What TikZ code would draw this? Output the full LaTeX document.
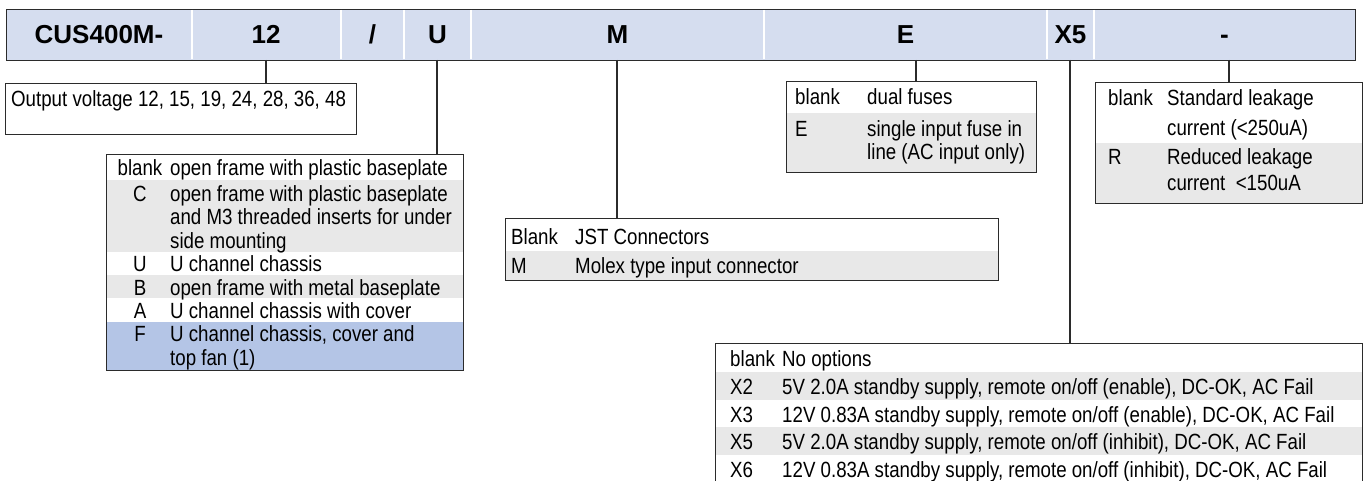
\documentclass[tikz,border=0pt]{standalone}
\usepackage{fontspec}
\setmainfont{Liberation Sans}[FakeStretch=0.85]
\newfontfamily\hdrfont{Liberation Sans}
\definecolor{barfill}{HTML}{D5DDEF}
\definecolor{rowgray}{HTML}{E8E8E8}
\definecolor{rowblue}{HTML}{B4C5E6}
\definecolor{edge}{HTML}{2B2B2B}
\begin{document}
\begin{tikzpicture}[x=1pt,y=-1pt,
  txt/.style={inner sep=0pt, anchor=base west, font=\fontsize{22}{24}\selectfont},
  keyc/.style={inner sep=0pt, anchor=base, font=\fontsize{22}{24}\selectfont},
  hdr/.style={inner sep=0pt, anchor=base, font=\hdrfont\fontsize{26}{30}\selectfont\bfseries},
  box/.style={draw=edge, line width=1.3pt, inner sep=0pt, anchor=north west},
  divider/.style={draw=white, line width=1.6pt},
  link/.style={draw=edge, line width=1.3pt}]
\useasboundingbox (0,0) rectangle (1370,481);

% ---------- header bar ----------
\node[box, fill=barfill, minimum width=1349pt, minimum height=51pt] (bar) at (6,9) {};
\foreach \dx in {192,341,404,471,764,1047,1094}
  \draw[divider] (\dx,9.8) -- (\dx,59.2);
\node[hdr] (hCUS) at (99,44) {CUS400M-};
\node[hdr] (h12) at (266,44) {12};
\node[hdr] (hsl) at (372.5,44) {/};
\node[hdr] (hU) at (437.5,44) {U};
\node[hdr] (hM) at (617.5,44) {M};
\node[hdr] (hE) at (905.5,44) {E};
\node[hdr] (hX) at (1070.5,44) {X5};
\node[hdr] (hR) at (1224.5,44) {-};
\coordinate (c12) at (266,60);
\coordinate (cU) at (437,60);
\coordinate (cM) at (617,60);
\coordinate (cE) at (916,60);
\coordinate (cX) at (1070,60);
\coordinate (cR) at (1229,60);

% ---------- output voltage box ----------
\node[box, minimum width=351pt, minimum height=51pt] (vbox) at (5,83) {};
\node[txt] (vtxt) at (11,107) {Output voltage 12, 15, 19, 24, 28, 36, 48};

% ---------- U box ----------
\fill[rowgray] (106,180) rectangle (463,252);
\fill[rowgray] (106,275) rectangle (463,298);
\fill[rowblue] (106,322) rectangle (463,370);
\node[box, minimum width=357pt, minimum height=216pt] (ubox) at (106,154) {};
\node[keyc] (uk1) at (140,176) {blank};
\node[txt] (ud1) at (170,176) {open frame with plastic baseplate};
\node[keyc] (uk2) at (140,201) {C};
\node[txt] (ud2) at (170,201) {open frame with plastic baseplate};
\node[txt] (ud2b) at (170,225) {and M3 threaded inserts for under};
\node[txt] (ud2c) at (170,248) {side mounting};
\node[keyc] (uk3) at (140,271) {U};
\node[txt] (ud3) at (170,271) {U channel chassis};
\node[keyc] (uk4) at (140,295) {B};
\node[txt] (ud4) at (170,295) {open frame with metal baseplate};
\node[keyc] (uk5) at (140,318) {A};
\node[txt] (ud5) at (170,318) {U channel chassis with cover};
\node[keyc] (uk6) at (140,341) {F};
\node[txt] (ud6) at (170,341) {U channel chassis, cover and};
\node[txt] (ud6b) at (170,365) {top fan (1)};

% ---------- M box ----------
\fill[rowgray] (505,251) rectangle (998,280);
\node[box, minimum width=493pt, minimum height=62pt] (mbox) at (505,218) {};
\node[txt] (mk1) at (511,244) {Blank};
\node[txt] (md1) at (575,244) {JST Connectors};
\node[txt] (mk2) at (511,273) {M};
\node[txt] (md2) at (575,273) {Molex type input connector};

% ---------- E box ----------
\fill[rowgray] (786,113) rectangle (1036,172);
\node[box, minimum width=250pt, minimum height=91pt] (ebox) at (786,81) {};
\node[txt] (ek1) at (795,105) {blank};
\node[txt] (ed1) at (867,105) {dual fuses};
\node[txt] (ek2) at (795,137) {E};
\node[txt] (ed2) at (867,137) {single input fuse in};
\node[txt] (ed2b) at (867,160) {line (AC input only)};

% ---------- R box ----------
\fill[rowgray] (1095,143) rectangle (1362,203);
\node[box, minimum width=267pt, minimum height=121pt] (rbox) at (1095,82) {};
\node[txt] (rk1) at (1108,106) {blank};
\node[txt] (rd1) at (1167,106) {Standard leakage};
\node[txt] (rd1b) at (1167,136) {current (<250uA)};
\node[txt] (rk2) at (1108,165) {R};
\node[txt] (rd2) at (1167,165) {Reduced leakage};
\node[txt] (rd2b) at (1167,191) {current\ \ <150uA};

% ---------- X box ----------
\fill[rowgray] (715,372) rectangle (1362,400);
\fill[rowgray] (715,427) rectangle (1362,455);
\node[box, minimum width=647pt, minimum height=160pt] (xbox) at (715,343) {};
\node[txt] (xk1) at (730,366) {blank};
\node[txt] (xd1) at (782,366) {No options};
\node[txt] (xk2) at (730,394) {X2};
\node[txt] (xd2) at (782,394) {5V 2.0A standby supply, remote on/off (enable), DC-OK, AC Fail};
\node[txt] (xk3) at (730,422) {X3};
\node[txt] (xd3) at (782,422) {12V 0.83A standby supply, remote on/off (enable), DC-OK, AC Fail};
\node[txt] (xk4) at (730,449) {X5};
\node[txt] (xd4) at (782,449) {5V 2.0A standby supply, remote on/off (inhibit), DC-OK, AC Fail};
\node[txt] (xk5) at (730,477) {X6};
\node[txt] (xd5) at (782,477) {12V 0.83A standby supply, remote on/off (inhibit), DC-OK, AC Fail};

% ---------- connectors ----------
\draw[link] (c12) -- (c12 |- vbox.north);
\draw[link] (cU) -- (cU |- ubox.north);
\draw[link] (cM) -- (cM |- mbox.north);
\draw[link] (cE) -- (cE |- ebox.north);
\draw[link] (cX) -- (cX |- xbox.north);
\draw[link] (cR) -- (cR |- rbox.north);
\end{tikzpicture}
\end{document}
